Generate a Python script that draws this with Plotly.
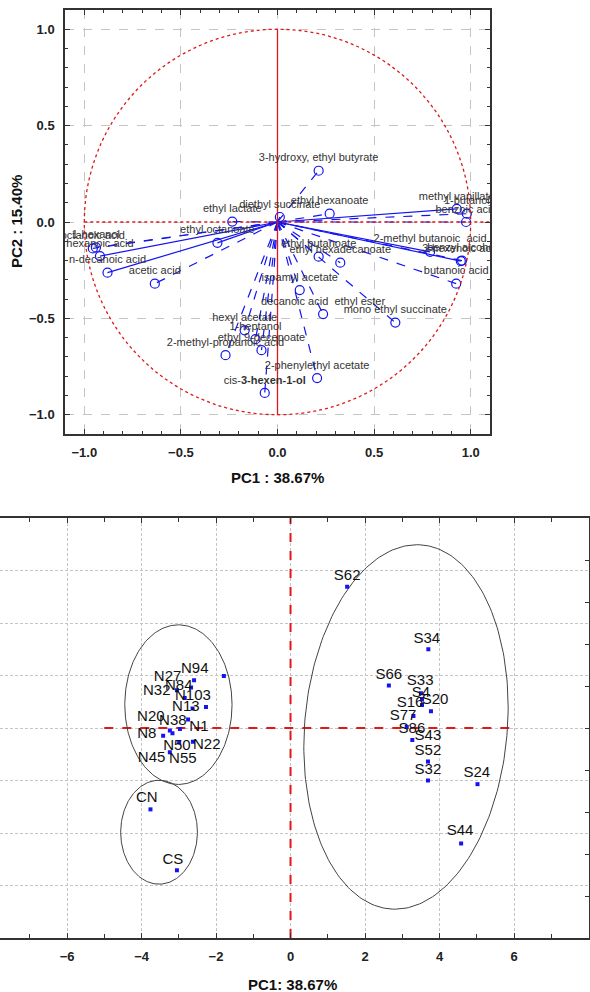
import numpy as np
import plotly.graph_objects as go

# ---------------- Top panel: variable loadings ----------------
var_names = [
    "ethyl lactate", "ethyl octanoate", "octanoic acid", "1-hexanol", "hexanoic acid",
    "n-decanoic acid", "acetic acid", "3-hydroxy, ethyl butyrate", "diethyl succinate",
    "ethyl hexanoate", "ethyl butanoate", "ethyl hexadecanoate", "isoamyl acetate",
    "decanoic acid  ethyl ester", "mono ethyl succinate", "hexyl acetate", "1-heptanol",
    "ethyl 9-decenoate", "2-methyl-propanoic acid", "2-phenylethyl acetate",
    "cis-<b>3-hexen-1-ol</b>", "methyl vanillate", "1-butanol", "benzoic acid",
    "2-methyl butanoic  acid", "3-hexenoic acid", "benzyl alcohol", "butanoic acid",
]
load_pc1 = [-0.234, -0.311, -0.956, -0.940, -0.919, -0.880, -0.635, 0.213, 0.012,
            0.270, 0.213, 0.325, 0.115, 0.236, 0.610, -0.170, -0.114, -0.083, -0.269,
            0.205, -0.066, 0.928, 0.980, 0.976, 0.790, 0.949, 0.955, 0.925]
load_pc2 = [0.002, -0.108, -0.137, -0.132, -0.177, -0.263, -0.320, 0.266, 0.026,
            0.043, -0.180, -0.211, -0.353, -0.478, -0.522, -0.562, -0.608, -0.665, -0.691,
            -0.810, -0.887, 0.068, 0.043, 0.000, -0.155, -0.203, -0.200, -0.320]
solid_vars = {"hexanoic acid", "n-decanoic acid", "methyl vanillate",
              "2-methyl butanoic  acid", "3-hexenoic acid", "ethyl octanoate"}

# ---------------- Bottom panel: sample scores ----------------
n_pc1 = [-2.59, -1.79, -2.67, -3.05, -2.84, -2.27, -2.63, -2.75, -2.97, -3.24, -3.17,
         -3.42, -2.99, -2.62, -3.24]
n_pc2 = [0.91, 0.99, 0.77, 0.72, 0.57, 0.40, 0.37, 0.16, -0.02, -0.05, -0.10,
         -0.15, -0.27, -0.26, -0.46]
n_labels = ["N94", "N27", "N84", "N32", "N103", "N13", "N20", "N38", "N1", "N8",
            "N50", "N22", "N45", "N55"]
n_label_pc1 = [-2.57, -3.30, -3.00, -3.59, -2.62, -2.81, -3.75, -3.16, -2.46, -3.86,
               -3.05, -2.25, -3.73, -2.89]
n_label_pc2 = [1.12, 0.97, 0.80, 0.70, 0.61, 0.40, 0.21, 0.13, 0.02, -0.11,
               -0.34, -0.32, -0.57, -0.59]

c_pc1 = [-3.76, -3.05]
c_pc2 = [-1.55, -2.71]
c_labels = ["CN", "CS"]
c_label_pc1 = [-3.86, -3.16]
c_label_pc2 = [-1.33, -2.52]

s_pc1 = [1.52, 3.70, 2.64, 3.50, 3.53, 3.53, 3.77, 3.30, 3.12, 3.27, 3.69, 3.69, 5.02, 4.58]
s_pc2 = [2.69, 1.50, 0.81, 0.66, 0.55, 0.44, 0.32, 0.23, 0.02, -0.23, -0.64, -1.00, -1.07, -2.20]
s_labels = ["S62", "S34", "S66", "S33", "S4", "S20", "S16", "S77", "S86", "S43",
            "S52", "S32", "S24", "S44"]
s_label_pc1 = [1.52, 3.66, 2.64, 3.48, 3.50, 3.88, 3.21, 3.02, 3.26, 3.69, 3.69, 3.69, 5.00, 4.55]
s_label_pc2 = [2.90, 1.70, 1.00, 0.89, 0.66, 0.53, 0.47, 0.23, -0.02, -0.15, -0.44, -0.81, -0.87, -1.96]

# group ellipses (centre, semi-axes in data units, tilt in degrees on screen)
ell_cx = [-3.01, -3.53, 3.10]
ell_cy = [0.445, -1.985, 0.02]
ell_ax = [1.44, 1.03, 2.72]
ell_by = [1.52, 0.99, 3.48]
ell_tilt = [0.0, 0.0, -5.0]

W, H = 590, 992
FONT = "Liberation Sans, Arial, sans-serif"
BLUE = "#1414f0"
RED = "#e01818"

# domains (paper fractions)
top_xd = [65 / W, 490 / W]
top_yd = [1 - 434 / H, 1 - 10 / H]
bot_xd = [0.0, 588.5 / W]
bot_yd = [1 - 938 / H, 1 - 518 / H]
bx_range = [-7.8, 8.0]
by_range = [-4, 4]

fig = go.Figure()

# --- top panel: loading vectors ---
lx_s, ly_s, lx_d, ly_d = [], [], [], []
for n, a, b in zip(var_names, load_pc1, load_pc2):
    if n in solid_vars:
        lx_s += [0, a, None]; ly_s += [0, b, None]
    else:
        lx_d += [0, a, None]; ly_d += [0, b, None]
fig.add_trace(go.Scatter(x=lx_d, y=ly_d, mode="lines", xaxis="x", yaxis="y",
                         line=dict(color=BLUE, width=1.2, dash="dash"), hoverinfo="skip"))
fig.add_trace(go.Scatter(x=lx_s, y=ly_s, mode="lines", xaxis="x", yaxis="y",
                         line=dict(color=BLUE, width=1.2), hoverinfo="skip"))
# red axes
fig.add_trace(go.Scatter(x=[0, 0], y=[-1, 1], mode="lines", xaxis="x", yaxis="y",
                         line=dict(color=RED, width=1.3)))
fig.add_trace(go.Scatter(x=[-1, 1.1], y=[0, 0], mode="lines", xaxis="x", yaxis="y",
                         line=dict(color=RED, width=1.3, dash="dot")))
fig.add_trace(go.Scatter(x=load_pc1, y=load_pc2, mode="markers+text", xaxis="x", yaxis="y",
                         text=var_names, textposition="top center",
                         textfont=dict(family=FONT, size=11, color="#333"),
                         marker=dict(symbol="circle-open", size=9, color=BLUE,
                                     line=dict(width=1.2, color=BLUE)),
                         cliponaxis=True))

# --- bottom panel ---
fig.add_trace(go.Scatter(x=[0, 0], y=by_range, mode="lines", xaxis="x2", yaxis="y2",
                         line=dict(color=RED, width=2, dash="dash")))
fig.add_trace(go.Scatter(x=[-5, 6], y=[0, 0], mode="lines", xaxis="x2", yaxis="y2",
                         line=dict(color=RED, width=2, dash="dash")))

plot_w = (bot_xd[1] - bot_xd[0]) * W
plot_h = (bot_yd[1] - bot_yd[0]) * H
ratio = (plot_h / (by_range[1] - by_range[0])) / (plot_w / (bx_range[1] - bx_range[0]))
t = np.linspace(0, 2 * np.pi, 241)
for cx, cy, ax_, by_, tl in zip(ell_cx, ell_cy, ell_ax, ell_by, ell_tilt):
    th = np.deg2rad(tl)
    du = ax_ * np.cos(t)
    dv = by_ * ratio * np.sin(t)
    ru = du * np.cos(th) - dv * np.sin(th)
    rv = du * np.sin(th) + dv * np.cos(th)
    fig.add_trace(go.Scatter(x=cx + ru, y=cy + rv / ratio, mode="lines", xaxis="x2", yaxis="y2",
                             line=dict(color="#444", width=1)))

for px, py in [(n_pc1, n_pc2), (c_pc1, c_pc2), (s_pc1, s_pc2)]:
    fig.add_trace(go.Scatter(x=px, y=py, mode="markers", xaxis="x2", yaxis="y2",
                             marker=dict(symbol="square", size=4, color=BLUE)))
for lx, ly, lt in [(n_label_pc1, n_label_pc2, n_labels), (c_label_pc1, c_label_pc2, c_labels),
                   (s_label_pc1, s_label_pc2, s_labels)]:
    fig.add_trace(go.Scatter(x=lx, y=ly, mode="text", text=lt, xaxis="x2", yaxis="y2",
                             textposition="middle center",
                             textfont=dict(family=FONT, size=15, color="#111")))
# dummy trace for right-hand tick axis
fig.add_trace(go.Scatter(x=[0], y=[0], mode="markers", xaxis="x2", yaxis="y3",
                         marker=dict(size=0.1, opacity=0), hoverinfo="skip"))

tickfont = dict(family=FONT, size=13, color="#222", weight="bold")
common = dict(showline=True, linecolor="#333", linewidth=1.5, mirror="ticks",
              ticks="inside", ticklen=5, tickcolor="#333", tickwidth=1,
              showgrid=True, gridcolor="#c4c4c4", griddash="dash", gridwidth=1,
              zeroline=False, tickfont=tickfont)

fig.update_layout(
    width=W, height=H, margin=dict(l=0, r=0, t=0, b=0),
    paper_bgcolor="white", plot_bgcolor="white", showlegend=False,
    xaxis=dict(domain=top_xd, anchor="y", range=[-1.1, 1.1], dtick=0.5, tick0=0,
               tickformat=".1f", minor=dict(dtick=0.1, ticks="inside", ticklen=3,
                                            tickcolor="#333", showgrid=False),
               ticklabelstandoff=6, **common),
    yaxis=dict(domain=top_yd, anchor="x", range=[-1.1, 1.1], dtick=0.5, tick0=0,
               tickformat=".1f", minor=dict(dtick=0.1, ticks="inside", ticklen=3,
                                            tickcolor="#333", showgrid=False),
               ticklabelstandoff=6, **common),
    xaxis2=dict(domain=bot_xd, anchor="y2", range=bx_range, dtick=2, tick0=0,
                minor=dict(dtick=1, ticks="inside", ticklen=4, tickcolor="#333", showgrid=False),
                ticklabelstandoff=5,
                **{**common, "linewidth": 2, "griddash": "3px,2px"}),
    yaxis2=dict(domain=bot_yd, anchor="x2", range=by_range, dtick=1, tick0=0,
                showline=False, ticks="", showticklabels=False, showgrid=True,
                gridcolor="#c4c4c4", griddash="3px,2px", zeroline=False),
    yaxis3=dict(overlaying="y2", anchor="x2", side="right", range=[-5, 5], dtick=1,
                showline=True, linecolor="#333", linewidth=2, ticks="inside", ticklen=4,
                tickcolor="#333", showticklabels=False, showgrid=False, zeroline=False),
    shapes=[dict(type="circle", xref="x", yref="y", x0=-1, x1=1, y0=-1, y1=1,
                 line=dict(color=RED, width=1.3, dash="dot"), layer="above")],
    annotations=[
        dict(text="PC1 : 38.67%", x=277 / W, y=1 - 477 / H, xref="paper", yref="paper",
             xanchor="center", yanchor="middle", showarrow=False,
             font=dict(family=FONT, size=15, color="#111", weight="bold")),
        dict(text="PC2 : 15.40%", x=17 / W, y=1 - 222 / H, xref="paper", yref="paper",
             xanchor="center", yanchor="middle", showarrow=False, textangle=-90,
             font=dict(family=FONT, size=15, color="#111", weight="bold")),
        dict(text="PC1: 38.67%", x=292 / W, y=1 - 984 / H, xref="paper", yref="paper",
             xanchor="center", yanchor="middle", showarrow=False,
             font=dict(family=FONT, size=15, color="#111", weight="bold")),
    ],
)

fig.write_html("out.html")
